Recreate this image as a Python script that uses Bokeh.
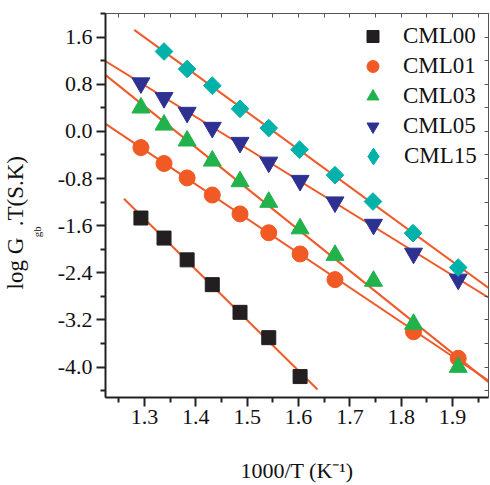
import numpy as np
from bokeh.plotting import figure
from bokeh.models import (Range1d, FixedTicker, PrintfTickFormatter, LinearAxis, Title,
                          Legend, LegendItem, CustomJSTickFormatter)
from bokeh.embed import file_html
from bokeh.resources import INLINE

# ---- data ----
inv_T = [1.293, 1.338, 1.383, 1.432, 1.486, 1.542, 1.603, 1.671, 1.746, 1.824, 1.911]

cml00_x = [1.293, 1.338, 1.383, 1.432, 1.486, 1.542, 1.603]
cml00_y = [-1.47, -1.81, -2.18, -2.60, -3.07, -3.50, -4.16]

cml01_x = [1.293, 1.338, 1.383, 1.432, 1.486, 1.542, 1.603, 1.671, 1.824, 1.911]
cml01_y = [-0.275, -0.545, -0.79, -1.08, -1.40, -1.72, -2.08, -2.515, -3.40, -3.85]

cml03_x = inv_T
cml03_y = [0.40, 0.11, -0.16, -0.50, -0.85, -1.20, -1.65, -2.10, -2.54, -3.27, -4.00]

cml05_x = inv_T
cml05_y = [0.82, 0.57, 0.32, 0.065, -0.19, -0.525, -0.835, -1.20, -1.58, -2.07, -2.51]

cml15_x = [1.338, 1.383, 1.432, 1.486, 1.542, 1.602, 1.671, 1.745, 1.823, 1.911]
cml15_y = [1.355, 1.058, 0.776, 0.383, 0.056, -0.31, -0.743, -1.19, -1.727, -2.31]

series_names = ["CML00", "CML01", "CML03", "CML05", "CML15"]
# extent of each linear fit line along the x axis
fit_x_start = [1.260, 1.22, 1.22, 1.22, 1.280]
fit_x_end = [1.637, 1.98, 1.98, 1.98, 1.98]

x_ticks = [1.3, 1.4, 1.5, 1.6, 1.7, 1.8, 1.9]
x_minor = [1.25, 1.35, 1.45, 1.55, 1.65, 1.75, 1.85, 1.95]
y_ticks = [-4.0, -3.2, -2.4, -1.6, -0.8, 0.0, 0.8, 1.6]
y_minor = [-4.4, -3.6, -2.8, -2.0, -1.2, -0.4, 0.4, 1.2, 2.0]

x_title = "1000/T (K\u207b\u00b9)"
y_title_main = "log G\u00a0\u00a0.T(S.K)"
y_title_sub = "gb"

FONT = "Liberation Serif"
FIT_COLOR = "#F05A28"
NB = "\u00a0"

p = figure(width=490, height=485, output_backend="svg", toolbar_location=None,
           x_range=Range1d(1.224, 1.97), y_range=Range1d(-4.515, 2.0),
           min_border_left=104, min_border_right=2, min_border_top=13, min_border_bottom=87)
p.xgrid.visible = False
p.ygrid.visible = False
p.outline_line_color = "#555555"
p.outline_line_width = 1
p.background_fill_color = "white"

# axes
for ax in (p.xaxis[0], p.yaxis[0]):
    ax.axis_line_width = 2
    ax.axis_line_color = "#222222"
    ax.major_tick_line_width = 2
    ax.minor_tick_line_width = 2
    ax.major_tick_line_color = "#222222"
    ax.minor_tick_line_color = "#222222"
    ax.major_tick_in = 0
    ax.major_tick_out = 9
    ax.minor_tick_in = 0
    ax.minor_tick_out = 5
    ax.major_label_text_font = FONT
    ax.major_label_text_font_size = "22px"
    ax.major_label_text_color = "#111111"
    ax.formatter = PrintfTickFormatter(format="%.1f")
    ax.axis_label_text_font = FONT
    ax.axis_label_text_font_style = "normal"
    ax.axis_label_text_color = "#111111"

p.xaxis[0].ticker = FixedTicker(ticks=x_ticks, minor_ticks=x_minor)
p.yaxis[0].ticker = FixedTicker(ticks=y_ticks, minor_ticks=y_minor)
p.xaxis[0].major_label_standoff = 3
p.yaxis[0].major_label_standoff = 4

p.xaxis[0].axis_label = x_title
p.xaxis[0].axis_label_text_font_size = "22px"
p.xaxis[0].axis_label_standoff = 31

# subscript "gb" of the y title, shifted along the axis with trailing no-break spaces
p.yaxis[0].axis_label = y_title_sub + NB * 19
p.yaxis[0].axis_label_text_font_size = "11px"
p.yaxis[0].axis_label_standoff = 12

# main part of the y title
p.add_layout(Title(text=y_title_main, align="left", offset=108, vertical_align="bottom",
                   standoff=0, text_font=FONT, text_font_size="23px",
                   text_font_style="normal", text_color="#111111"), "left")

# mirror axes (ticks only, inward)
top = LinearAxis(ticker=FixedTicker(ticks=x_ticks, minor_ticks=x_minor),
                 formatter=CustomJSTickFormatter(code="return ''"))
right = LinearAxis(ticker=FixedTicker(ticks=y_ticks, minor_ticks=y_minor),
                   formatter=CustomJSTickFormatter(code="return ''"))
for ax in (top, right):
    ax.axis_line_color = "#555555"
    ax.axis_line_width = 1
    ax.major_tick_in = 4
    ax.major_tick_out = 0
    ax.minor_tick_in = 4
    ax.minor_tick_out = 0
    ax.major_tick_line_color = "#555555"
    ax.minor_tick_line_color = "#555555"
    ax.major_label_standoff = 0
    ax.major_label_text_font_size = "1px"
p.add_layout(top, "above")
p.add_layout(right, "right")

# fit lines
all_x = [cml00_x, cml01_x, cml03_x, cml05_x, cml15_x]
all_y = [cml00_y, cml01_y, cml03_y, cml05_y, cml15_y]
for xs, ys, x0, x1 in zip(all_x, all_y, fit_x_start, fit_x_end):
    slope, icpt = np.polyfit(xs, ys, 1)
    p.line([x0, x1], [slope * x0 + icpt, slope * x1 + icpt],
           line_color=FIT_COLOR, line_width=2)

# markers
r00 = p.scatter(cml00_x, cml00_y, marker="square", size=14,
                fill_color="#231F20", line_color="#231F20")
r01 = p.scatter(cml01_x, cml01_y, marker="circle", size=16,
                fill_color="#F15A24", line_color="#F15A24")
r03 = p.scatter(cml03_x, cml03_y, marker="triangle", size=18,
                fill_color="#22B24C", line_color="#22B24C")
r05 = p.scatter(cml05_x, cml05_y, marker="inverted_triangle", size=18,
                fill_color="#2E3192", line_color="#2E3192")
# legend key for the diamonds (legend swatches are drawn unrotated); it sits hidden
# underneath the rotated squares drawn next
r15_key = p.scatter(cml15_x, cml15_y, marker="diamond", size=10,
                    fill_color="#00B2A9", line_color="#00B2A9")
r15 = p.scatter(cml15_x, cml15_y, marker="square", size=12.5, angle=np.pi / 4,
                fill_color="#00B2A9", line_color="#00B2A9")

legend_style = dict(padding=0, margin=0, spacing=0, label_text_font=FONT,
                    label_text_font_size="23px", label_text_color="#111111",
                    border_line_alpha=0, background_fill_alpha=0)
legend1 = Legend(items=[LegendItem(label=n, renderers=[r])
                        for n, r in zip(series_names[:4], [r00, r01, r03, r05])],
                 location=(251, 256), glyph_width=33, glyph_height=30, label_height=30,
                 label_standoff=14, **legend_style)
legend2 = Legend(items=[LegendItem(label=series_names[4], renderers=[r15_key])],
                 location=(246, 220), glyph_width=44, glyph_height=42, label_height=42,
                 label_standoff=9, **legend_style)
p.add_layout(legend1)
p.add_layout(legend2)

open("out.html", "w").write(file_html(p, INLINE))
